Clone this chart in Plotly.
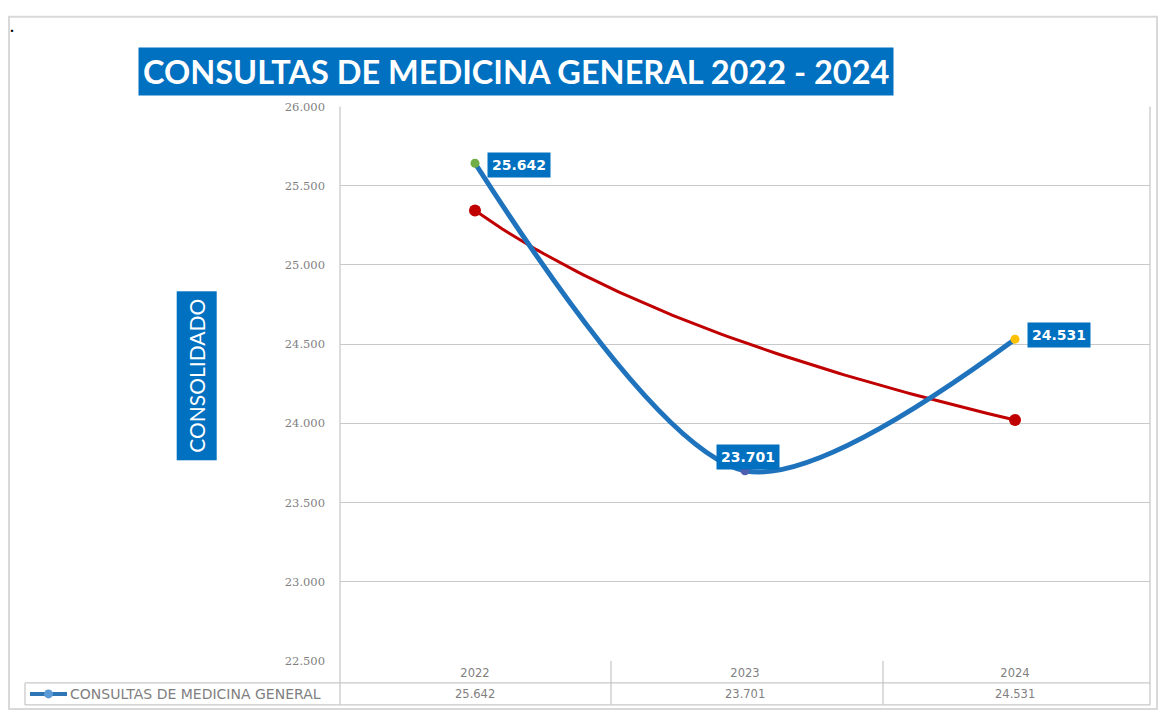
import numpy as np
import plotly.graph_objects as go

years = ["2022", "2023", "2024"]
values = [25642, 23701, 24531]
marker_colors = ["#70AD47", "#4F5FB0", "#FFC000"]
series_name = "CONSULTAS DE MEDICINA GENERAL"
title_text = "CONSULTAS DE MEDICINA GENERAL 2022 - 2024"
y_title = "CONSOLIDADO"
y_ticks = [22500, 23000, 23500, 24000, 24500, 25000, 25500, 26000]

# measured page placement of the figure inside the capture window
W, H = 1150, 710
XOFF, YOFF, YSC = 8, 13.2, 0.983
def px(x):
    return (x - XOFF) / W
def py(y):
    return 1 - ((y - YOFF) / YSC) / H

def fmt(v):
    return f"{v:,}".replace(",", ".")

xs = [1, 2, 3]

# logarithmic trendline (Excel style) fitted to the data
lx = np.log(np.array(xs, dtype=float))
yv = np.array(values, dtype=float)
b, a = np.polyfit(lx, yv, 1)
tx = np.linspace(1, 3, 80)
ty = a + b * np.log(tx)

BLUE = "#0070C0"
GRID = "#C9C9C9"
TXT = "#7F7F7F"

fig = go.Figure()
fig.add_trace(go.Scatter(x=tx, y=ty, mode="lines", line=dict(color="#C00000", width=3),
                         hoverinfo="skip", showlegend=False))
fig.add_trace(go.Scatter(x=[tx[0], tx[-1]], y=[ty[0], ty[-1]], mode="markers",
                         marker=dict(color="#C00000", size=12, symbol="circle"),
                         hoverinfo="skip", showlegend=False))
fig.add_trace(go.Scatter(x=xs, y=values, mode="lines+markers", name=series_name,
                         line=dict(color="#1F73BD", width=5, shape="spline", smoothing=0.85),
                         marker=dict(color=marker_colors, size=9, line=dict(width=0)),
                         showlegend=False))

x0, x1 = 340, 1150
ytop, ybot = 105, 661
fig.update_layout(
    width=W, height=H, autosize=False,
    margin=dict(l=0, r=0, t=0, b=0),
    paper_bgcolor="white", plot_bgcolor="white",
    separators=",.",
    xaxis=dict(domain=[px(x0), px(x1)], range=[0.5, 3.5], tickvals=xs, ticktext=years,
               showgrid=False, zeroline=False, showline=False,
               tickfont=dict(family="DejaVu Sans", size=11.5, color=TXT), ticks="",
               ticklabelstandoff=3),
    yaxis=dict(domain=[py(ybot), py(ytop)], range=[22500, 26000], tickvals=y_ticks,
               tickformat=",.0f", showgrid=True, gridcolor=GRID, gridwidth=1.3,
               zeroline=False, showline=False,
               tickfont=dict(family="DejaVu Serif", size=11.5, color=TXT),
               ticks="", ticklabelstandoff=14),
)

shapes = []
def line(xa, ya, xb, yb, color=GRID, w=1.3):
    shapes.append(dict(type="line", xref="paper", yref="paper", x0=px(xa), y0=py(ya),
                       x1=px(xb), y1=py(yb), line=dict(color=color, width=w)))

# outer chart border
shapes.append(dict(type="rect", xref="paper", yref="paper", x0=px(9), y0=py(709), x1=px(1157), y1=py(15),
                   line=dict(color="#D9D9D9", width=2), fillcolor="rgba(0,0,0,0)", layer="below"))
# plot area verticals
line(x0, ytop, x0, 705)
line(x1, ytop, x1, 705)
# table
line(x0, 683, x1, 683)
line(25, 683, x0, 683)
line(25, 705, x1, 705)
line(25, 683, 25, 705)
line(611, ybot, 611, 705)
line(883, ybot, 883, 705)
# legend key
line(30, 694, 67, 694, color="#2E75B6", w=4)
shapes.append(dict(type="circle", xref="paper", yref="paper", x0=px(44), x1=px(53), y0=py(698.5), y1=py(689.5),
                   fillcolor="#5B9BD5", line=dict(width=0)))
fig.update_layout(shapes=shapes)

ann = []
# title
ann.append(dict(text=f"<b>{title_text}</b>", xref="paper", yref="paper", x=px(516), y=py(69.5),
                showarrow=False, font=dict(family="Lato", size=32.5, color="white"),
                bgcolor=BLUE, borderpad=4, xanchor="center", yanchor="middle"))
# y title
ann.append(dict(text=y_title, xref="paper", yref="paper", x=px(197), y=py(375), textangle=-90,
                showarrow=False, font=dict(family="Lato", size=21, color="white"),
                bgcolor=BLUE, borderpad=7, xanchor="center", yanchor="middle"))
# data labels
shifts = [(12, -2, "left"), (3, 14, "center"), (12, 4, "left")]
for x, v, (dx, dy, xa) in zip(xs, values, shifts):
    ann.append(dict(text=f"<b>{fmt(v)}</b>", x=x, y=v, xref="x", yref="y", showarrow=False,
                    xanchor=xa, yanchor="middle", xshift=dx, yshift=dy,
                    font=dict(family="DejaVu Sans", size=14, color="white"),
                    bgcolor=BLUE, borderpad=4))
# table values
for x, v in zip(xs, values):
    ann.append(dict(text=fmt(v), x=x, xref="x", y=py(694), yref="paper", showarrow=False,
                    font=dict(family="DejaVu Sans", size=11.5, color=TXT),
                    xanchor="center", yanchor="middle"))
# legend text
ann.append(dict(text=series_name, xref="paper", yref="paper", x=px(68), y=py(694), showarrow=False,
                xanchor="left", yanchor="middle",
                font=dict(family="DejaVu Sans", size=14, color=TXT)))
ann.append(dict(text="<b>.</b>", xref="paper", yref="paper", x=0, y=1, showarrow=False,
                xanchor="left", yanchor="top", font=dict(size=14, color="black")))
fig.update_layout(annotations=ann)

fig.write_html("out.html")
